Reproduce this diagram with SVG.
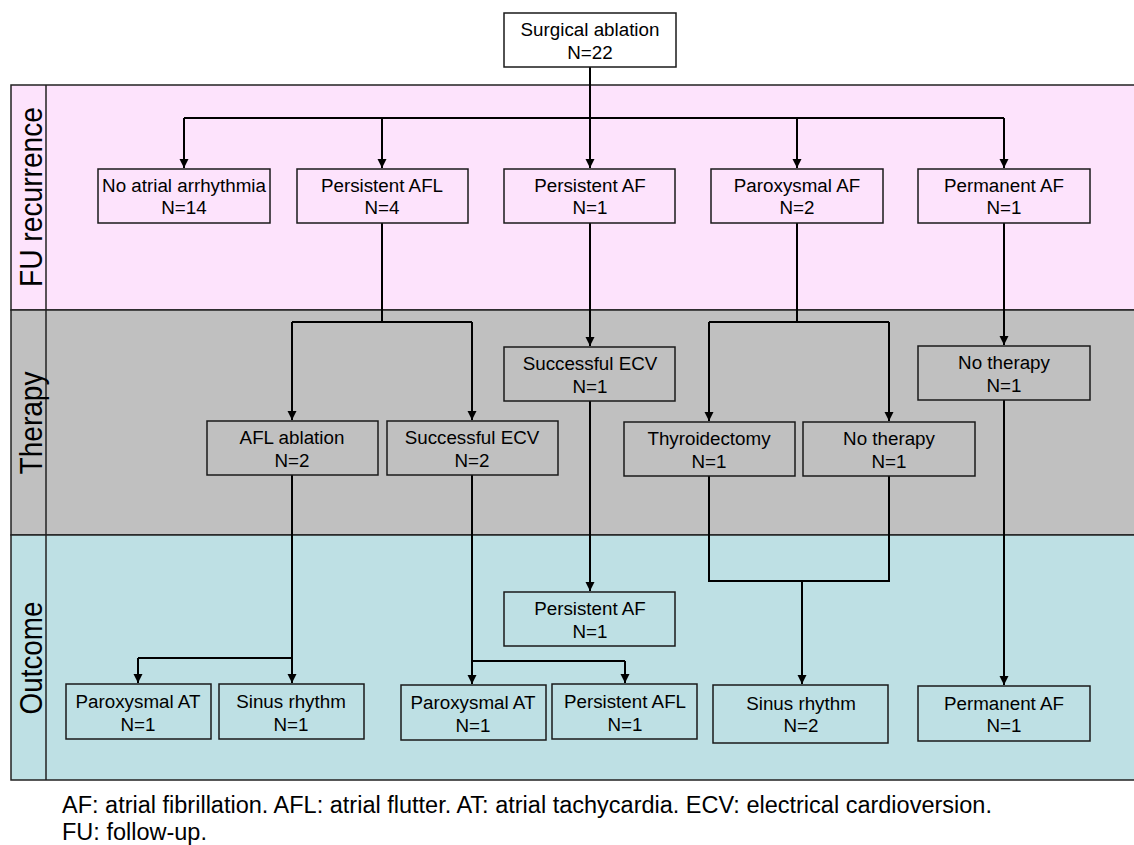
<svg xmlns="http://www.w3.org/2000/svg" width="1134" height="845" viewBox="0 0 1134 845">
<style>
.band{stroke:#222;stroke-width:1.5}
.box{fill:none;stroke:#1a1a1a;stroke-width:1.5}
.t{font-family:"Liberation Sans",Arial,sans-serif;font-size:18.8px;fill:#000;text-anchor:middle}
.bl{font-family:"Liberation Sans",Arial,sans-serif;font-size:31px;fill:#000;text-anchor:middle}
.fn{font-family:"Liberation Sans",Arial,sans-serif;font-size:23.5px;fill:#000}
.c{fill:none;stroke:#000;stroke-width:2}
.a{fill:none;stroke:#000;stroke-width:2;marker-end:url(#arr)}
</style>
<defs>
<marker id="arr" markerUnits="userSpaceOnUse" markerWidth="10" markerHeight="10" refX="9" refY="4.5" orient="auto">
<path d="M0,0 L9,4.5 L0,9 z" fill="#000"/>
</marker>
</defs>
<rect width="1134" height="845" fill="#fff"/>
<g id="bands">
<rect class="band" x="11" y="85" width="1126" height="225" fill="#FDE3FC"/>
<rect class="band" x="11" y="310" width="1126" height="225" fill="#C0C0C0"/>
<rect class="band" x="11" y="535" width="1126" height="245" fill="#BEE0E4"/>
<line class="band" x1="46" y1="85" x2="46" y2="780"/>
<text class="bl" transform="translate(41.5,197) rotate(-90)" textLength="180" lengthAdjust="spacingAndGlyphs">FU recurrence</text>
<text class="bl" transform="translate(41.5,423) rotate(-90)" textLength="103" lengthAdjust="spacingAndGlyphs">Therapy</text>
<text class="bl" transform="translate(41.5,658) rotate(-90)" textLength="113" lengthAdjust="spacingAndGlyphs">Outcome</text>
</g>
<g id="connectors">
<path class="a" d="M590,67 V168"/>
<path class="c" d="M184,118 H1004"/>
<path class="a" d="M184,118 V168"/>
<path class="a" d="M382,118 V168"/>
<path class="a" d="M797,118 V168"/>
<path class="a" d="M1004,118 V168"/>
<path class="c" d="M382,223 V322 M292,322 H472"/>
<path class="a" d="M292,322 V420"/>
<path class="a" d="M472,322 V420"/>
<path class="a" d="M590,223 V346"/>
<path class="c" d="M797,223 V322 M709,322 H889"/>
<path class="a" d="M709,322 V421"/>
<path class="a" d="M889,322 V421"/>
<path class="a" d="M1004,223 V345"/>
<path class="c" d="M292,475 V658 M138,658 H292"/>
<path class="a" d="M138,658 V683"/>
<path class="a" d="M292,658 V683"/>
<path class="c" d="M472,475 V661 H625"/>
<path class="a" d="M472,661 V684"/>
<path class="a" d="M625,661 V683"/>
<path class="a" d="M590,401 V591"/>
<path class="c" d="M709,476 V581 H889 V476"/>
<path class="a" d="M802,581 V684"/>
<path class="a" d="M1004,400 V685"/>
</g>
<g id="n_surgical"><rect class="box" x="504" y="13" width="172" height="54"/><text class="t" x="590" y="36">Surgical ablation</text><text class="t" x="590" y="59">N=22</text></g>
<g id="n_noatrial"><rect class="box" x="98" y="169" width="172" height="54"/><text class="t" x="184" y="192">No atrial arrhythmia</text><text class="t" x="184" y="214">N=14</text></g>
<g id="n_persafl"><rect class="box" x="297" y="169" width="171" height="54"/><text class="t" x="382" y="192">Persistent AFL</text><text class="t" x="382" y="214">N=4</text></g>
<g id="n_persaf"><rect class="box" x="504" y="169" width="171" height="54"/><text class="t" x="590" y="192">Persistent AF</text><text class="t" x="590" y="214">N=1</text></g>
<g id="n_paroxaf"><rect class="box" x="711" y="169" width="172" height="54"/><text class="t" x="797" y="192">Paroxysmal AF</text><text class="t" x="797" y="214">N=2</text></g>
<g id="n_permaf"><rect class="box" x="918" y="169" width="172" height="54"/><text class="t" x="1004" y="192">Permanent AF</text><text class="t" x="1004" y="214">N=1</text></g>
<g id="n_aflabl"><rect class="box" x="207" y="421" width="171" height="54"/><text class="t" x="292" y="444">AFL ablation</text><text class="t" x="292" y="467">N=2</text></g>
<g id="n_ecv2"><rect class="box" x="387" y="421" width="171" height="54"/><text class="t" x="472" y="444">Successful ECV</text><text class="t" x="472" y="467">N=2</text></g>
<g id="n_ecv1"><rect class="box" x="504" y="347" width="171" height="54"/><text class="t" x="590" y="370">Successful ECV</text><text class="t" x="590" y="393">N=1</text></g>
<g id="n_thyroid"><rect class="box" x="624" y="422" width="171" height="54"/><text class="t" x="709" y="445">Thyroidectomy</text><text class="t" x="709" y="468">N=1</text></g>
<g id="n_nother1"><rect class="box" x="803" y="422" width="172" height="54"/><text class="t" x="889" y="445">No therapy</text><text class="t" x="889" y="468">N=1</text></g>
<g id="n_nother2"><rect class="box" x="918" y="346" width="172" height="54"/><text class="t" x="1004" y="369">No therapy</text><text class="t" x="1004" y="392">N=1</text></g>
<g id="n_parat1"><rect class="box" x="66" y="684" width="145" height="55"/><text class="t" x="138" y="708">Paroxysmal AT</text><text class="t" x="138" y="731">N=1</text></g>
<g id="n_sinus1"><rect class="box" x="219" y="684" width="145" height="55"/><text class="t" x="291" y="708">Sinus rhythm</text><text class="t" x="291" y="731">N=1</text></g>
<g id="n_parat2"><rect class="box" x="401" y="685" width="145" height="55"/><text class="t" x="473" y="709">Paroxysmal AT</text><text class="t" x="473" y="732">N=1</text></g>
<g id="n_persafl2"><rect class="box" x="552" y="684" width="145" height="55"/><text class="t" x="625" y="708">Persistent AFL</text><text class="t" x="625" y="731">N=1</text></g>
<g id="n_persaf2"><rect class="box" x="504" y="592" width="171" height="54"/><text class="t" x="590" y="615">Persistent AF</text><text class="t" x="590" y="638">N=1</text></g>
<g id="n_sinus2"><rect class="box" x="713" y="685" width="175" height="58"/><text class="t" x="801" y="710">Sinus rhythm</text><text class="t" x="801" y="732">N=2</text></g>
<g id="n_permaf2"><rect class="box" x="918" y="686" width="172" height="55"/><text class="t" x="1004" y="710">Permanent AF</text><text class="t" x="1004" y="732">N=1</text></g>
<g id="footnote">
<text class="fn" x="62" y="813">AF: atrial fibrillation. AFL: atrial flutter. AT: atrial tachycardia. ECV: electrical cardioversion.</text>
<text class="fn" x="62" y="840">FU: follow-up.</text>
</g>
</svg>
